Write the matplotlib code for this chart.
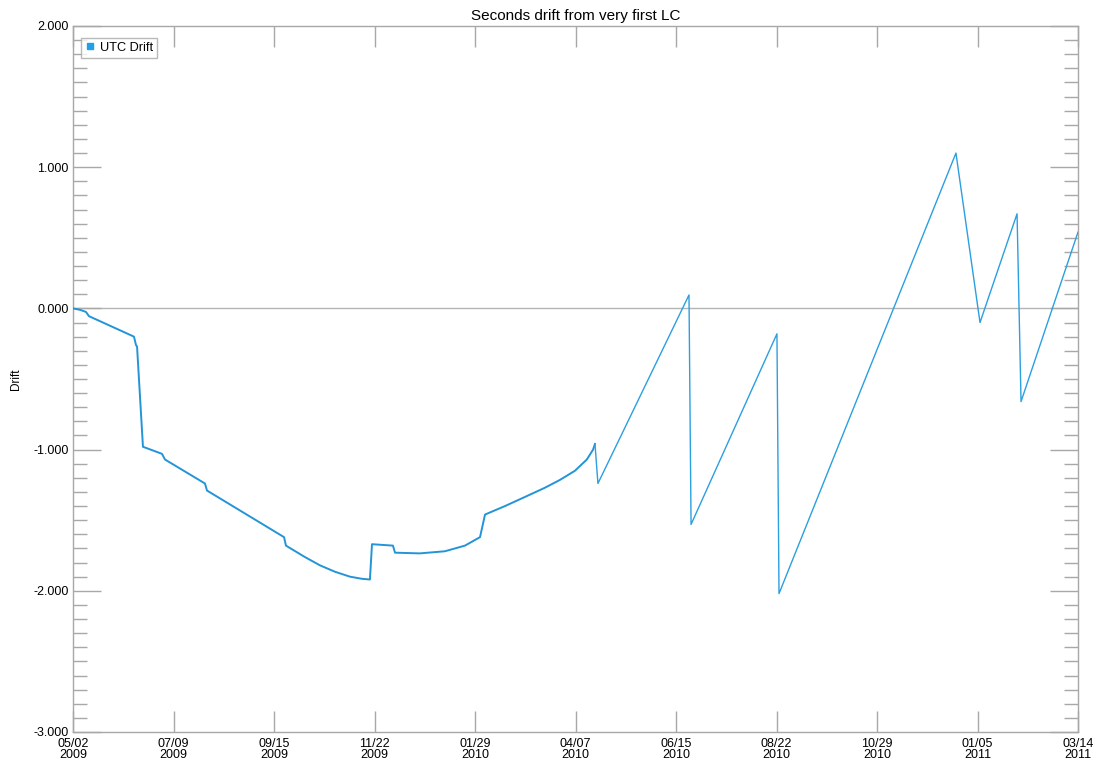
import datetime as dt
import numpy as np
import matplotlib
matplotlib.use("Agg")
import matplotlib.pyplot as plt
import matplotlib.dates as mdates
from matplotlib.ticker import MultipleLocator, FormatStrFormatter
from matplotlib.lines import Line2D

plt.rcParams['font.family'] = ['Liberation Sans', 'DejaVu Sans']

# Drift samples: days since the first light-curve epoch, and drift in seconds
start_date = dt.datetime(2009, 5, 2)
end_date = dt.datetime(2011, 3, 14)
day_offsets = [0, 4.7, 8.8, 10.8, 41.3, 42.7, 43.4, 47.4, 60.3, 62.3, 89.4, 90.8,
               143.0, 144.3, 157.0, 167.4, 177.5, 187.7, 195.8, 201.2, 202.6, 216.8,
               218.2, 235.0, 252.0, 265.6, 275.8, 279.2, 292.7, 306.3, 319.8, 329.9,
               340.1, 348.2, 352.4, 353.7, 355.7, 417.4, 418.8, 477.0, 478.4, 598.3,
               614.6, 639.7, 642.4, 681.0]
drift = [0.0, -0.01, -0.025, -0.055, -0.20, -0.26, -0.27, -0.98, -1.03, -1.07, -1.24, -1.29,
         -1.62, -1.68, -1.76, -1.82, -1.865, -1.90, -1.915, -1.92, -1.67, -1.68,
         -1.73, -1.735, -1.72, -1.68, -1.62, -1.46, -1.40, -1.335, -1.27, -1.215,
         -1.15, -1.07, -1.00, -0.96, -1.24, 0.095, -1.53, -0.18, -2.02, 1.10,
         -0.10, 0.67, -0.66, 0.54]
tick_labels = ["05/02\n2009", "07/09\n2009", "09/15\n2009", "11/22\n2009", "01/29\n2010",
               "04/07\n2010", "06/15\n2010", "08/22\n2010", "10/29\n2010", "01/05\n2011",
               "03/14\n2011"]
series_name = "UTC Drift"
title = "Seconds drift from very first LC"

dates = [start_date + dt.timedelta(days=d) for d in day_offsets]

line_color = '#2b9fe0'
grey = '#a8a8a8'

fig = plt.figure(figsize=(10.96, 7.61), dpi=100)
ax = fig.add_axes([73 / 1096, 1 - 732 / 761, (1078 - 73) / 1096, (732 - 26) / 761])

# zero reference line
ax.axhline(0, color='#b4b4b4', lw=1.0, zorder=1)

# denser, heavier early record then the thinner sawtooth section
split = 36
ax.plot(dates[:split], drift[:split], color='#2394d8', lw=1.4, zorder=3)
ax.plot(dates[split - 1:], drift[split - 1:], color=line_color, lw=1.0, zorder=3)

ax.set_xlim(start_date, end_date)
ax.set_ylim(-3, 2)

x0 = mdates.date2num(start_date)
x1 = mdates.date2num(end_date)
ax.set_xticks(np.linspace(x0, x1, len(tick_labels)))
ax.set_xticklabels(tick_labels, fontsize=9, linespacing=0.95)

ax.yaxis.set_major_locator(MultipleLocator(1.0))
ax.yaxis.set_minor_locator(MultipleLocator(0.1))
ax.yaxis.set_major_formatter(FormatStrFormatter('%.3f'))

ax.tick_params(axis='x', which='major', direction='in', length=15, width=1,
               color=grey, top=True, bottom=True, pad=4, labelsize=9)
ax.tick_params(axis='y', which='major', direction='in', length=20, width=1,
               color=grey, left=True, right=True, pad=3, labelsize=9)
ax.tick_params(axis='y', which='minor', direction='in', length=10, width=1,
               color=grey, left=True, right=True)

for s in ax.spines.values():
    s.set_color(grey)
    s.set_linewidth(1.0)

ax.set_title(title, fontsize=11, pad=4)
ax.set_ylabel("Drift", fontsize=8.5, labelpad=8)

handle = Line2D([], [], linestyle='none', marker='s', markersize=5,
                markerfacecolor='#1fa0e8', markeredgecolor='#1fa0e8')
leg = ax.legend([handle], [series_name], loc='upper left', bbox_to_anchor=(0.008, 0.983),
                fontsize=9.2, frameon=True, fancybox=False, borderpad=0.3,
                handlelength=0.8, handletextpad=0.4, borderaxespad=0)
leg.get_frame().set_edgecolor(grey)
leg.get_frame().set_linewidth(1.0)

fig.savefig("out.png", dpi=100)
